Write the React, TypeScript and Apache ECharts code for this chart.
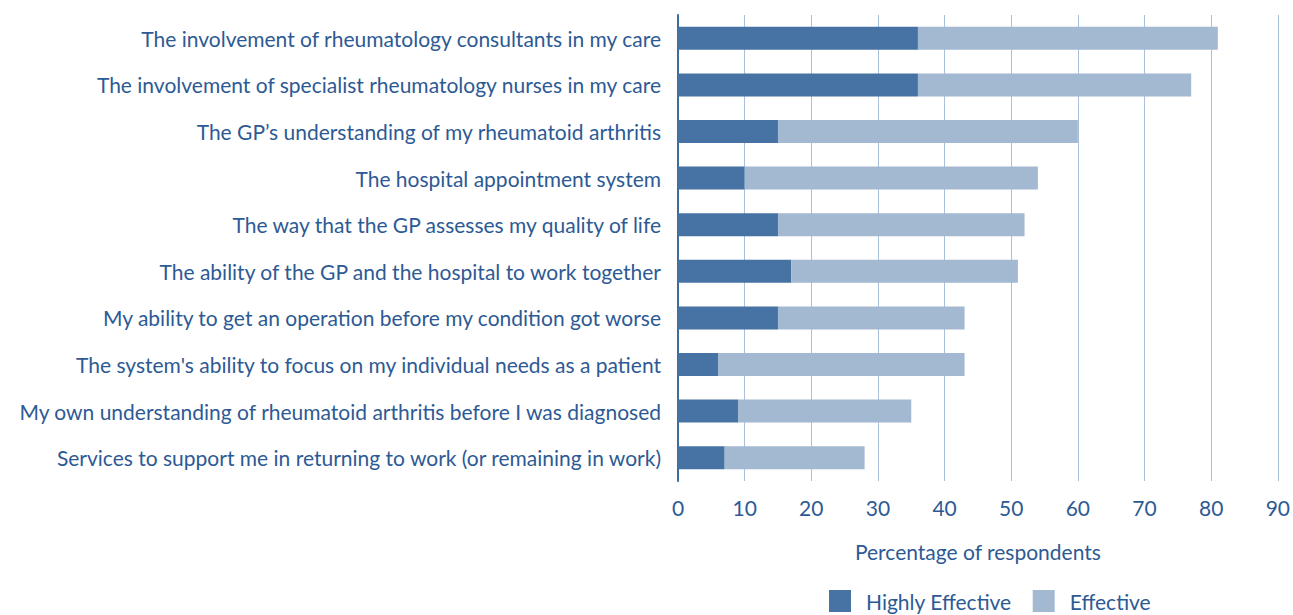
import React, { useEffect, useRef } from "react";
import * as echarts from "echarts";

const categories = [
  "The involvement of rheumatology consultants in my care",
  "The involvement of specialist rheumatology nurses in my care",
  "The GP\u2019s understanding of my rheumatoid arthritis",
  "The hospital appointment system",
  "The way that the GP assesses my quality of life",
  "The ability of the GP and the hospital to work together",
  "My ability to get an operation before my condition got worse",
  "The system's ability to focus on my individual needs as a patient",
  "My own understanding of rheumatoid arthritis before I was diagnosed",
  "Services to support me in returning to work (or remaining in work)",
];
const highlyEffective = [36, 36, 15, 10, 15, 17, 15, 6, 9, 7];
const effective = [45, 41, 45, 44, 37, 34, 28, 37, 26, 21];
const xTicks = { min: 0, max: 90, interval: 10 };

const TEXT = "#2d5a94";
const FONT = "Lato";

export default function App() {
  const ref = useRef<HTMLDivElement>(null);
  useEffect(() => {
    if (!ref.current) return;
    const chart = echarts.init(ref.current, undefined, { renderer: "svg" });
    chart.setOption({
      animation: false,
      textStyle: { fontFamily: FONT, color: TEXT },
      grid: { left: 678, right: 15, top: 15, height: 466, containLabel: false },
      legend: {
        bottom: 3,
        left: 829,
        padding: 0,
        itemWidth: 22,
        itemHeight: 22,
        itemGap: 21,
        icon: "rect",
        textStyle: { fontFamily: FONT, color: TEXT, fontSize: 21, padding: [0, 0, 0, 10] },
        data: ["Highly Effective", "Effective"],
      },
      xAxis: {
        type: "value",
        min: xTicks.min,
        max: xTicks.max,
        interval: xTicks.interval,
        name: "Percentage of respondents",
        nameLocation: "middle",
        nameGap: 60,
        nameTextStyle: { fontFamily: FONT, color: TEXT, fontSize: 21 },
        axisLine: { show: false },
        axisTick: { show: false },
        axisLabel: { color: TEXT, fontFamily: FONT, fontSize: 21, margin: 16 },
        splitLine: { show: true, lineStyle: { color: "#a9c0da", width: 1 } },
      },
      yAxis: {
        type: "category",
        data: categories,
        inverse: true,
        axisLine: { show: true, lineStyle: { color: "#3f6a9c", width: 2 } },
        axisTick: { show: false },
        axisLabel: { color: TEXT, fontFamily: FONT, fontSize: 21, margin: 17 },
      },
      series: [
        {
          name: "Highly Effective",
          type: "bar",
          stack: "total",
          barWidth: 23,
          data: highlyEffective,
          itemStyle: { color: "#4672a4" },
        },
        {
          name: "Effective",
          type: "bar",
          stack: "total",
          barWidth: 23,
          data: effective,
          itemStyle: { color: "#a3b9d2" },
        },
      ],
    });
    return () => chart.dispose();
  }, []);
  return (
    <div
      ref={ref}
      style={{ position: "fixed", left: 0, top: 0, width: 1293, height: 615, background: "#fff" }}
    />
  );
}
